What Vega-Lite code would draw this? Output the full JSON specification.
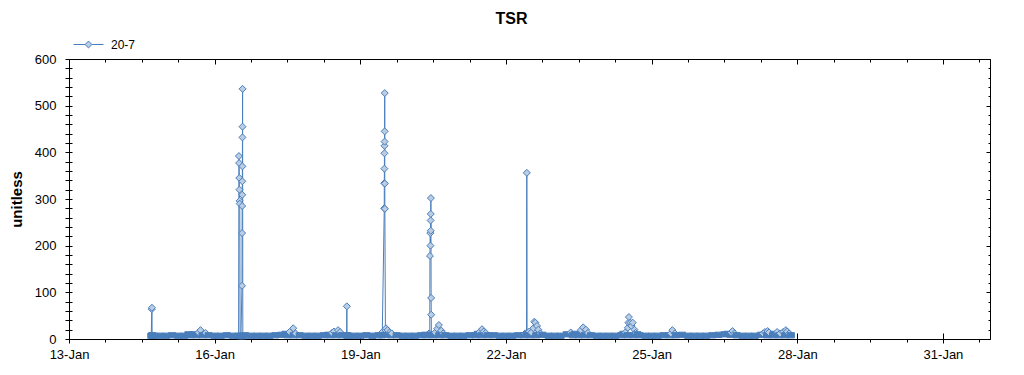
{
  "$schema": "https://vega.github.io/schema/vega-lite/v6.json",
  "autosize": {"type": "none"},
  "width": 921,
  "height": 280,
  "padding": {"left": 69, "top": 59, "right": 34, "bottom": 36},
  "title": {"text": "TSR", "fontSize": 16, "fontWeight": "bold", "font": "Liberation Sans", "anchor": "middle", "dx": -18, "offset": -11, "baseline": "alphabetic", "color": "black"},
  "data": {"values": [
    {"t":"2020-01-14T16:40","v":7},{"t":"2020-01-14T16:55","v":64},{"t":"2020-01-14T17:00","v":67},{"t":"2020-01-14T17:05","v":8},{"t":"2020-01-14T18:00","v":7},{"t":"2020-01-14T21:00","v":7},
    {"t":"2020-01-15T00:00","v":7},{"t":"2020-01-15T03:00","v":8},{"t":"2020-01-15T06:00","v":7},{"t":"2020-01-15T09:00","v":7},{"t":"2020-01-15T11:00","v":10},{"t":"2020-01-15T12:00","v":8},{"t":"2020-01-15T13:30","v":10},{"t":"2020-01-15T15:00","v":8},{"t":"2020-01-15T16:00","v":14},{"t":"2020-01-15T17:00","v":19},{"t":"2020-01-15T18:00","v":8},{"t":"2020-01-15T19:30","v":13},{"t":"2020-01-15T21:00","v":8},
    {"t":"2020-01-16T00:00","v":7},{"t":"2020-01-16T03:00","v":7},{"t":"2020-01-16T06:00","v":8},{"t":"2020-01-16T09:00","v":7},{"t":"2020-01-16T11:50","v":7},{"t":"2020-01-16T12:00","v":392},{"t":"2020-01-16T12:05","v":377},{"t":"2020-01-16T12:10","v":345},{"t":"2020-01-16T12:15","v":320},{"t":"2020-01-16T12:20","v":296},{"t":"2020-01-16T12:25","v":290},{"t":"2020-01-16T12:35","v":6},{"t":"2020-01-16T13:00","v":7},{"t":"2020-01-16T13:30","v":114},{"t":"2020-01-16T13:33","v":227},{"t":"2020-01-16T13:36","v":285},{"t":"2020-01-16T13:38","v":309},{"t":"2020-01-16T13:40","v":338},{"t":"2020-01-16T13:42","v":370},{"t":"2020-01-16T13:44","v":432},{"t":"2020-01-16T13:46","v":455},{"t":"2020-01-16T13:48","v":536},{"t":"2020-01-16T13:55","v":6},{"t":"2020-01-16T15:00","v":8},{"t":"2020-01-16T18:00","v":7},{"t":"2020-01-16T21:00","v":7},
    {"t":"2020-01-17T00:00","v":7},{"t":"2020-01-17T03:00","v":7},{"t":"2020-01-17T06:00","v":8},{"t":"2020-01-17T09:00","v":9},{"t":"2020-01-17T11:00","v":11},{"t":"2020-01-17T12:00","v":8},{"t":"2020-01-17T13:00","v":15},{"t":"2020-01-17T14:50","v":23},{"t":"2020-01-17T15:00","v":8},{"t":"2020-01-17T16:00","v":12},{"t":"2020-01-17T18:00","v":8},{"t":"2020-01-17T21:00","v":7},
    {"t":"2020-01-18T00:00","v":7},{"t":"2020-01-18T03:00","v":7},{"t":"2020-01-18T06:00","v":8},{"t":"2020-01-18T08:00","v":9},{"t":"2020-01-18T09:00","v":8},{"t":"2020-01-18T10:00","v":13},{"t":"2020-01-18T11:00","v":16},{"t":"2020-01-18T12:00","v":8},{"t":"2020-01-18T13:00","v":19},{"t":"2020-01-18T14:00","v":15},{"t":"2020-01-18T15:00","v":8},{"t":"2020-01-18T17:15","v":8},{"t":"2020-01-18T17:20","v":70},{"t":"2020-01-18T17:25","v":8},{"t":"2020-01-18T18:00","v":7},{"t":"2020-01-18T21:00","v":7},
    {"t":"2020-01-19T00:00","v":7},{"t":"2020-01-19T03:00","v":8},{"t":"2020-01-19T06:00","v":7},{"t":"2020-01-19T09:00","v":8},{"t":"2020-01-19T10:30","v":13},{"t":"2020-01-19T10:50","v":8},{"t":"2020-01-19T11:50","v":280},{"t":"2020-01-19T11:52","v":334},{"t":"2020-01-19T11:54","v":365},{"t":"2020-01-19T11:56","v":398},{"t":"2020-01-19T11:58","v":414},{"t":"2020-01-19T12:00","v":423},{"t":"2020-01-19T12:02","v":445},{"t":"2020-01-19T12:04","v":527},{"t":"2020-01-19T12:06","v":333},{"t":"2020-01-19T12:08","v":279},{"t":"2020-01-19T12:25","v":9},{"t":"2020-01-19T12:40","v":23},{"t":"2020-01-19T13:30","v":19},{"t":"2020-01-19T14:30","v":14},{"t":"2020-01-19T15:00","v":8},{"t":"2020-01-19T15:30","v":12},{"t":"2020-01-19T18:00","v":8},{"t":"2020-01-19T21:00","v":7},
    {"t":"2020-01-20T00:00","v":7},{"t":"2020-01-20T03:00","v":7},{"t":"2020-01-20T06:00","v":8},{"t":"2020-01-20T08:00","v":9},{"t":"2020-01-20T09:00","v":8},{"t":"2020-01-20T10:00","v":12},{"t":"2020-01-20T10:20","v":9},{"t":"2020-01-20T10:25","v":178},{"t":"2020-01-20T10:35","v":227},{"t":"2020-01-20T10:40","v":200},{"t":"2020-01-20T10:45","v":254},{"t":"2020-01-20T10:48","v":232},{"t":"2020-01-20T10:50","v":268},{"t":"2020-01-20T10:53","v":302},{"t":"2020-01-20T11:00","v":88},{"t":"2020-01-20T11:03","v":52},{"t":"2020-01-20T11:08","v":9},{"t":"2020-01-20T12:00","v":8},{"t":"2020-01-20T13:00","v":14},{"t":"2020-01-20T14:00","v":22},{"t":"2020-01-20T14:50","v":30},{"t":"2020-01-20T15:00","v":8},{"t":"2020-01-20T16:00","v":18},{"t":"2020-01-20T17:00","v":12},{"t":"2020-01-20T18:00","v":8},{"t":"2020-01-20T21:00","v":7},
    {"t":"2020-01-21T00:00","v":7},{"t":"2020-01-21T03:00","v":7},{"t":"2020-01-21T06:00","v":8},{"t":"2020-01-21T09:00","v":8},{"t":"2020-01-21T10:00","v":11},{"t":"2020-01-21T11:00","v":15},{"t":"2020-01-21T12:00","v":8},{"t":"2020-01-21T12:10","v":21},{"t":"2020-01-21T13:00","v":16},{"t":"2020-01-21T14:00","v":13},{"t":"2020-01-21T15:00","v":8},{"t":"2020-01-21T18:00","v":8},{"t":"2020-01-21T21:00","v":7},
    {"t":"2020-01-22T00:00","v":7},{"t":"2020-01-22T03:00","v":7},{"t":"2020-01-22T06:00","v":8},{"t":"2020-01-22T09:00","v":8},{"t":"2020-01-22T09:30","v":12},{"t":"2020-01-22T10:10","v":9},{"t":"2020-01-22T10:18","v":356},{"t":"2020-01-22T10:25","v":10},{"t":"2020-01-22T11:30","v":16},{"t":"2020-01-22T12:00","v":8},{"t":"2020-01-22T12:30","v":14},{"t":"2020-01-22T13:30","v":23},{"t":"2020-01-22T14:00","v":37},{"t":"2020-01-22T14:30","v":35},{"t":"2020-01-22T15:00","v":8},{"t":"2020-01-22T15:20","v":28},{"t":"2020-01-22T16:00","v":20},{"t":"2020-01-22T17:00","v":12},{"t":"2020-01-22T18:00","v":9},{"t":"2020-01-22T21:00","v":7},
    {"t":"2020-01-23T00:00","v":7},{"t":"2020-01-23T03:00","v":7},{"t":"2020-01-23T06:00","v":10},{"t":"2020-01-23T08:00","v":14},{"t":"2020-01-23T09:00","v":8},{"t":"2020-01-23T10:00","v":11},{"t":"2020-01-23T12:00","v":8},{"t":"2020-01-23T13:00","v":19},{"t":"2020-01-23T14:10","v":25},{"t":"2020-01-23T15:00","v":8},{"t":"2020-01-23T15:30","v":20},{"t":"2020-01-23T16:30","v":13},{"t":"2020-01-23T18:00","v":8},{"t":"2020-01-23T21:00","v":7},
    {"t":"2020-01-24T00:00","v":7},{"t":"2020-01-24T03:00","v":7},{"t":"2020-01-24T06:00","v":7},{"t":"2020-01-24T09:00","v":8},{"t":"2020-01-24T10:00","v":11},{"t":"2020-01-24T11:00","v":14},{"t":"2020-01-24T12:00","v":8},{"t":"2020-01-24T12:15","v":24},{"t":"2020-01-24T12:30","v":35},{"t":"2020-01-24T12:45","v":47},{"t":"2020-01-24T13:30","v":35},{"t":"2020-01-24T14:00","v":28},{"t":"2020-01-24T14:40","v":35},{"t":"2020-01-24T15:00","v":8},{"t":"2020-01-24T15:30","v":20},{"t":"2020-01-24T16:00","v":13},{"t":"2020-01-24T17:00","v":10},{"t":"2020-01-24T18:00","v":8},{"t":"2020-01-24T21:00","v":7},
    {"t":"2020-01-25T00:00","v":7},{"t":"2020-01-25T03:00","v":7},{"t":"2020-01-25T06:00","v":8},{"t":"2020-01-25T09:00","v":8},{"t":"2020-01-25T09:30","v":12},{"t":"2020-01-25T10:15","v":19},{"t":"2020-01-25T11:30","v":12},{"t":"2020-01-25T12:00","v":8},{"t":"2020-01-25T15:00","v":9},{"t":"2020-01-25T18:00","v":7},{"t":"2020-01-25T21:00","v":7},
    {"t":"2020-01-26T00:00","v":7},{"t":"2020-01-26T03:00","v":7},{"t":"2020-01-26T06:00","v":8},{"t":"2020-01-26T09:00","v":9},{"t":"2020-01-26T12:00","v":10},{"t":"2020-01-26T13:30","v":11},{"t":"2020-01-26T15:00","v":9},{"t":"2020-01-26T15:20","v":14},{"t":"2020-01-26T16:00","v":17},{"t":"2020-01-26T17:00","v":12},{"t":"2020-01-26T18:00","v":8},{"t":"2020-01-26T21:00","v":7},
    {"t":"2020-01-27T00:00","v":7},{"t":"2020-01-27T03:00","v":7},{"t":"2020-01-27T06:00","v":9},{"t":"2020-01-27T07:00","v":12},{"t":"2020-01-27T08:00","v":15},{"t":"2020-01-27T09:00","v":8},{"t":"2020-01-27T09:20","v":17},{"t":"2020-01-27T10:00","v":14},{"t":"2020-01-27T12:00","v":8},{"t":"2020-01-27T12:30","v":11},{"t":"2020-01-27T14:00","v":15},{"t":"2020-01-27T15:00","v":8},{"t":"2020-01-27T15:30","v":12},{"t":"2020-01-27T17:00","v":15},{"t":"2020-01-27T18:00","v":8},{"t":"2020-01-27T18:20","v":19},{"t":"2020-01-27T19:00","v":16},{"t":"2020-01-27T20:00","v":12},{"t":"2020-01-27T20:50","v":8}
  ]},
  "resolve": {"axis": {"x": "independent", "y": "independent"}},
  "layer": [
    {
      "mark": {"type": "line", "strokeWidth": 1},
      "encoding": {
        "x": {"field": "t", "type": "temporal", "scale": {"domain": [{"year": 2020, "month": 1, "date": 13}, {"year": 2020, "month": 1, "date": 31, "hours": 23, "minutes": 15}], "nice": false},
          "axis": {"orient": "bottom", "title": null, "format": "%d-%b", "values": [{"year": 2020, "month": 1, "date": 13}, {"year": 2020, "month": 1, "date": 16}, {"year": 2020, "month": 1, "date": 19}, {"year": 2020, "month": 1, "date": 22}, {"year": 2020, "month": 1, "date": 25}, {"year": 2020, "month": 1, "date": 28}, {"year": 2020, "month": 1, "date": 31}], "tickSize": 4, "labelPadding": 5, "labelFontSize": 13, "labelFlush": false, "labelOverlap": false}},
        "y": {"field": "v", "type": "quantitative", "scale": {"domain": [0, 600], "nice": false},
          "axis": {"orient": "left", "title": "unitless", "titleFontSize": 15, "titleFontWeight": "bold", "titlePadding": 10, "values": [0,20,40,60,80,100,120,140,160,180,200,220,240,260,280,300,320,340,360,380,400,420,440,460,480,500,520,540,560,580,600], "labelExpr": "datum.value % 100 === 0 ? datum.label : ''", "tickSize": 4, "labelPadding": 9, "labelFontSize": 13, "labelFlush": false, "labelOverlap": false}},
        "color": {"datum": "20-7", "scale": {"range": ["#4a7ebb"]},
          "legend": {"orient": "none", "legendX": 4, "legendY": -30, "title": null, "padding": 0, "symbolType": "M-1,0H-0.23M0.23,0H1M-0.23,0L0,-0.23L0.23,0L0,0.23Z", "symbolSize": 900, "symbolStrokeColor": "#4a7ebb", "symbolFillColor": "#b9cde5", "symbolStrokeWidth": 1, "labelFontSize": 12, "labelOffset": 7, "labelColor": "black"}}
      }
    },
    {
      "mark": {"type": "point", "filled": true, "stroke": "#4a7ebb", "strokeWidth": 1, "opacity": 1, "size": 49},
      "encoding": {
        "x": {"field": "t", "type": "temporal", "scale": {"domain": [{"year": 2020, "month": 1, "date": 13}, {"year": 2020, "month": 1, "date": 31, "hours": 23, "minutes": 15}], "nice": false},
          "axis": {"orient": "bottom", "title": null, "labels": false, "values": [{"year": 2020, "month": 1, "date": 13}, {"year": 2020, "month": 1, "date": 16}, {"year": 2020, "month": 1, "date": 19}, {"year": 2020, "month": 1, "date": 22}, {"year": 2020, "month": 1, "date": 25}, {"year": 2020, "month": 1, "date": 28}, {"year": 2020, "month": 1, "date": 31}], "tickSize": -6}},
        "y": {"field": "v", "type": "quantitative", "scale": {"domain": [0, 600], "nice": false},
          "axis": {"orient": "left", "title": null, "labels": false, "values": [0,20,40,60,80,100,120,140,160,180,200,220,240,260,280,300,320,340,360,380,400,420,440,460,480,500,520,540,560,580,600], "tickSize": -3}},
        "fill": {"condition": {"test": "datum.v < 12", "value": "#4a7ebb"}, "value": "#b9cde5"},
        "shape": {"condition": {"test": "datum.v < 12", "value": "M-1,-0.75H1V0.75H-1Z"}, "value": "diamond"}
      }
    },
    {
      "mark": {"type": "point", "opacity": 0},
      "encoding": {
        "x": {"field": "t", "type": "temporal", "scale": {"domain": [{"year": 2020, "month": 1, "date": 13}, {"year": 2020, "month": 1, "date": 31, "hours": 23, "minutes": 15}], "nice": false},
          "axis": {"orient": "bottom", "title": null, "labels": false, "tickSize": 3, "values": [{"year":2020,"month":1,"date":13,"hours":18},{"year":2020,"month":1,"date":14,"hours":12},{"year":2020,"month":1,"date":15,"hours":6},{"year":2020,"month":1,"date":16,"hours":18},{"year":2020,"month":1,"date":17,"hours":12},{"year":2020,"month":1,"date":18,"hours":6},{"year":2020,"month":1,"date":19,"hours":18},{"year":2020,"month":1,"date":20,"hours":12},{"year":2020,"month":1,"date":21,"hours":6},{"year":2020,"month":1,"date":22,"hours":18},{"year":2020,"month":1,"date":23,"hours":12},{"year":2020,"month":1,"date":24,"hours":6},{"year":2020,"month":1,"date":25,"hours":18},{"year":2020,"month":1,"date":26,"hours":12},{"year":2020,"month":1,"date":27,"hours":6},{"year":2020,"month":1,"date":28,"hours":18},{"year":2020,"month":1,"date":29,"hours":12},{"year":2020,"month":1,"date":30,"hours":6},{"year":2020,"month":1,"date":31,"hours":18}]}},
        "y": {"field": "v", "type": "quantitative", "scale": {"domain": [0, 600], "nice": false},
          "axis": {"orient": "right", "title": null, "labels": false, "values": [0,100,200,300,400,500,600], "tickSize": -4}}
      }
    },
    {
      "mark": {"type": "point", "opacity": 0},
      "encoding": {
        "x": {"field": "t", "type": "temporal", "scale": {"domain": [{"year": 2020, "month": 1, "date": 13}, {"year": 2020, "month": 1, "date": 31, "hours": 23, "minutes": 15}], "nice": false},
          "axis": {"orient": "top", "title": null, "labels": false, "tickSize": -5, "values": [{"year": 2020, "month": 1, "date": 13}, {"year": 2020, "month": 1, "date": 16}, {"year": 2020, "month": 1, "date": 19}, {"year": 2020, "month": 1, "date": 22}, {"year": 2020, "month": 1, "date": 25}, {"year": 2020, "month": 1, "date": 28}, {"year": 2020, "month": 1, "date": 31}]}},
        "y": {"field": "v", "type": "quantitative", "scale": {"domain": [0, 600], "nice": false},
          "axis": {"orient": "right", "title": null, "labels": false, "values": [0,20,40,60,80,100,120,140,160,180,200,220,240,260,280,300,320,340,360,380,400,420,440,460,480,500,520,540,560,580,600], "tickSize": -2}}
      }
    },
    {
      "mark": {"type": "point", "opacity": 0},
      "encoding": {
        "x": {"field": "t", "type": "temporal", "scale": {"domain": [{"year": 2020, "month": 1, "date": 13}, {"year": 2020, "month": 1, "date": 31, "hours": 23, "minutes": 15}], "nice": false},
          "axis": {"orient": "top", "title": null, "labels": false, "tickSize": -3, "values": [{"year":2020,"month":1,"date":13,"hours":18},{"year":2020,"month":1,"date":14,"hours":12},{"year":2020,"month":1,"date":15,"hours":6},{"year":2020,"month":1,"date":16,"hours":18},{"year":2020,"month":1,"date":17,"hours":12},{"year":2020,"month":1,"date":18,"hours":6},{"year":2020,"month":1,"date":19,"hours":18},{"year":2020,"month":1,"date":20,"hours":12},{"year":2020,"month":1,"date":21,"hours":6},{"year":2020,"month":1,"date":22,"hours":18},{"year":2020,"month":1,"date":23,"hours":12},{"year":2020,"month":1,"date":24,"hours":6},{"year":2020,"month":1,"date":25,"hours":18},{"year":2020,"month":1,"date":26,"hours":12},{"year":2020,"month":1,"date":27,"hours":6},{"year":2020,"month":1,"date":28,"hours":18},{"year":2020,"month":1,"date":29,"hours":12},{"year":2020,"month":1,"date":30,"hours":6},{"year":2020,"month":1,"date":31,"hours":18}]}},
        "y": {"field": "v", "type": "quantitative", "scale": {"domain": [0, 600], "nice": false}, "axis": null}
      }
    }
  ],
  "config": {
    "font": "Liberation Sans",
    "view": {"stroke": "black", "strokeWidth": 1},
    "axis": {"grid": false, "domain": false, "tickColor": "black", "tickWidth": 1, "labelColor": "black", "titleColor": "black", "labelFont": "Liberation Sans", "titleFont": "Liberation Sans"},
    "legend": {"labelFont": "Liberation Sans"}
  }
}
